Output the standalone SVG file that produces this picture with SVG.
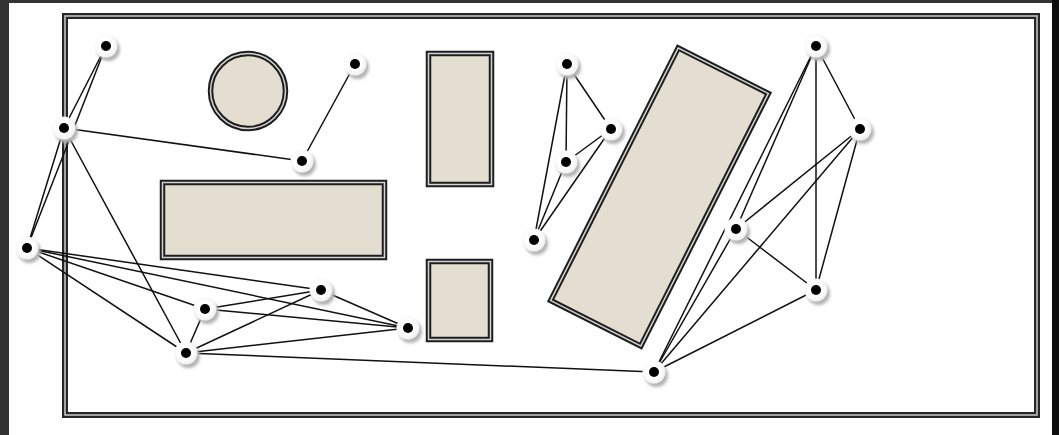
<svg xmlns="http://www.w3.org/2000/svg" width="1059" height="435" viewBox="0 0 1059 435">
<defs>
<style>
.bgdark{fill:#333333}
.shape{fill:#e3decf;stroke:#1e1e1e;stroke-width:5.5}
.gap{fill:none;stroke:#d4d4d4;stroke-width:1.5}
.edge{stroke:#111111;stroke-width:1.5;fill:none;stroke-linecap:round}
.nshadow{fill:#b4b4b4;filter:url(#blur)}
.ndisc{fill:url(#discGrad)}
.ndot{fill:#000000}
</style>
<filter id="blur" x="-50%" y="-50%" width="200%" height="200%"><feGaussianBlur stdDeviation="1.8"/></filter>
<radialGradient id="discGrad" cx="0.45" cy="0.45" r="0.6">
<stop offset="0.55" stop-color="#ffffff"/>
<stop offset="1" stop-color="#ececec"/>
</radialGradient>
<g id="node">
<circle class="nshadow" cx="2.5" cy="3.5" r="11.5"/>
<circle class="ndisc" cx="0" cy="0" r="11.5"/>
<circle class="ndot" cx="0" cy="0" r="5"/>
</g>
</defs>
<rect class="bgdark" x="0" y="0" width="1059" height="435"/>
<rect x="9" y="3" width="1043" height="432" fill="#ffffff"/>
<rect x="1052" y="0" width="7" height="435" fill="#0e0e0e"/>

<g id="frame">
<rect x="65" y="16" width="972" height="399" fill="none" stroke="#262626" stroke-width="6"/>
<rect x="65" y="16" width="972" height="399" fill="none" stroke="#c2c2c2" stroke-width="1.6"/>
</g>

<g id="shapes">
<g id="circle-obj">
<circle class="shape" cx="248" cy="91" r="37.5"/>
<circle class="gap" cx="248" cy="91" r="37.5" stroke="#f0f0f0"/>
</g>
<g id="wide-rect">
<rect class="shape" x="162.5" y="182.5" width="222" height="75"/>
<rect class="gap" x="162.5" y="182.5" width="222" height="75"/>
</g>
<g id="tall-rect">
<rect class="shape" x="428.5" y="53.5" width="63" height="131"/>
<rect class="gap" x="428.5" y="53.5" width="63" height="131"/>
</g>
<g id="small-rect">
<rect class="shape" x="428.5" y="261.5" width="62" height="78"/>
<rect class="gap" x="428.5" y="261.5" width="62" height="78"/>
</g>
<g id="rotated-rect" transform="translate(659.5 197) rotate(26.8)">
<rect class="shape" x="-50.5" y="-141.5" width="101" height="283"/>
<rect class="gap" x="-50.5" y="-141.5" width="101" height="283" stroke="#e6e6e6"/>
</g>
</g>

<g id="connectors" class="edge">
<line x1="106" y1="46" x2="64" y2="128"/>
<line x1="106" y1="46" x2="27" y2="248"/>
<line x1="64" y1="128" x2="27" y2="248"/>
<line x1="64" y1="128" x2="302" y2="161"/>
<line x1="302" y1="161" x2="355" y2="64"/>
<line x1="64" y1="128" x2="186" y2="353"/>
<line x1="27" y1="248" x2="321" y2="290"/>
<line x1="27" y1="248" x2="408" y2="328"/>
<line x1="27" y1="248" x2="205" y2="309"/>
<line x1="27" y1="248" x2="186" y2="353"/>
<line x1="205" y1="309" x2="321" y2="290"/>
<line x1="205" y1="309" x2="408" y2="328"/>
<line x1="205" y1="309" x2="186" y2="353"/>
<line x1="186" y1="353" x2="321" y2="290"/>
<line x1="186" y1="353" x2="408" y2="328"/>
<line x1="186" y1="353" x2="654" y2="372"/>
<line x1="321" y1="290" x2="408" y2="328"/>
<line x1="567" y1="64" x2="611" y2="129"/>
<line x1="567" y1="64" x2="566" y2="162"/>
<line x1="567" y1="64" x2="534" y2="240"/>
<line x1="611" y1="129" x2="566" y2="162"/>
<line x1="611" y1="129" x2="534" y2="240"/>
<line x1="566" y1="162" x2="534" y2="240"/>
<line x1="736" y1="229" x2="654" y2="372"/>
<line x1="736" y1="229" x2="816" y2="46"/>
<line x1="736" y1="229" x2="860" y2="129"/>
<line x1="736" y1="229" x2="816" y2="290"/>
<line x1="654" y1="372" x2="816" y2="46"/>
<line x1="654" y1="372" x2="860" y2="129"/>
<line x1="654" y1="372" x2="816" y2="290"/>
<line x1="816" y1="46" x2="860" y2="129"/>
<line x1="816" y1="46" x2="816" y2="290"/>
<line x1="860" y1="129" x2="816" y2="290"/>
</g>

<g id="n1"><use href="#node" x="106" y="46"/></g>
<g id="n2"><use href="#node" x="64" y="128"/></g>
<g id="n3"><use href="#node" x="302" y="161"/></g>
<g id="n4"><use href="#node" x="355" y="64"/></g>
<g id="n5"><use href="#node" x="27" y="248"/></g>
<g id="n6"><use href="#node" x="205" y="309"/></g>
<g id="n7"><use href="#node" x="321" y="290"/></g>
<g id="n8"><use href="#node" x="408" y="328"/></g>
<g id="n9"><use href="#node" x="186" y="353"/></g>
<g id="n10"><use href="#node" x="567" y="64"/></g>
<g id="n11"><use href="#node" x="611" y="129"/></g>
<g id="n12"><use href="#node" x="566" y="162"/></g>
<g id="n13"><use href="#node" x="534" y="240"/></g>
<g id="n14"><use href="#node" x="736" y="229"/></g>
<g id="n15"><use href="#node" x="654" y="372"/></g>
<g id="n16"><use href="#node" x="816" y="46"/></g>
<g id="n17"><use href="#node" x="860" y="129"/></g>
<g id="n18"><use href="#node" x="816" y="290"/></g>
</svg>
